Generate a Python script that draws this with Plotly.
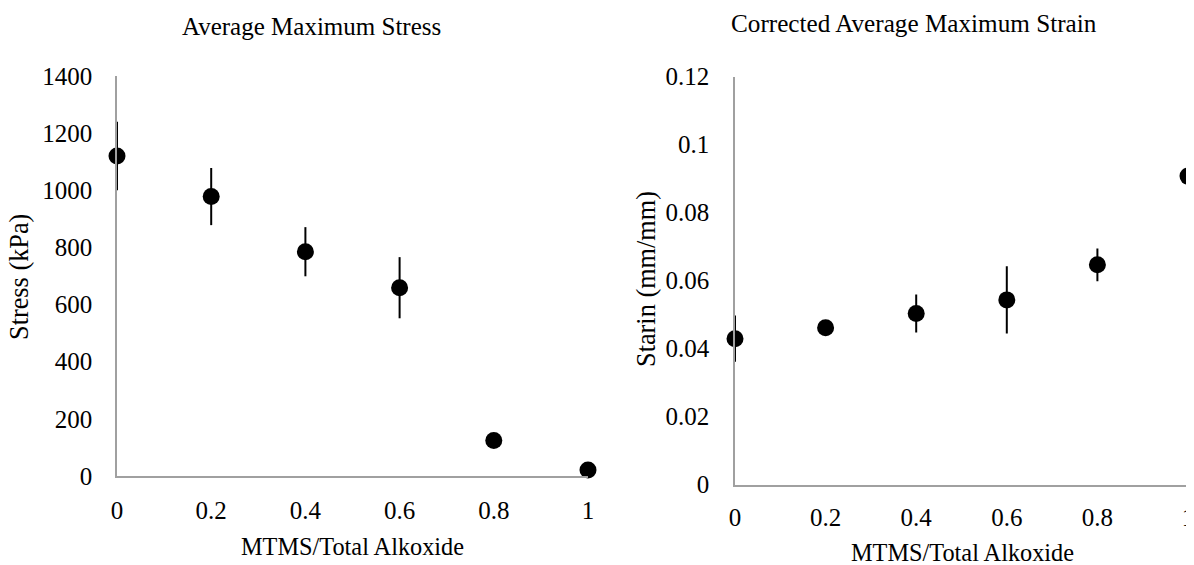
import plotly.graph_objects as go

# ---- data ----
ratio = [0, 0.2, 0.4, 0.6, 0.8, 1.0]
stress_kpa = [1120, 978, 785, 659, 124, 21]
stress_err = [120, 100, 86, 107, 25, 10]
strain = [0.0429, 0.0461, 0.0503, 0.0543, 0.0646, 0.0907]
strain_err = [0.0068, 0.0015, 0.0056, 0.0099, 0.0048, 0.0235]

x_ticks = [0, 0.2, 0.4, 0.6, 0.8, 1]
x_ticklabels = ["0", "0.2", "0.4", "0.6", "0.8", "1"]
stress_ticks = [0, 200, 400, 600, 800, 1000, 1200, 1400]
strain_ticks = [0, 0.02, 0.04, 0.06, 0.08, 0.1, 0.12]
strain_ticklabels = ["0", "0.02", "0.04", "0.06", "0.08", "0.1", "0.12"]

titles = ["Average Maximum Stress", "Corrected Average Maximum Strain"]
x_title = "MTMS/Total Alkoxide"
y_titles = ["Stress (kPa)", "Starin (mm/mm)"]

W, H = 1194, 565
OFF = 8  # page body margin offset of the plot div
FONT = "Liberation Serif"
AXIS_COLOR = "#a0a0a0"


def px_x(p):
    return (p - OFF) / W


def px_y(p):
    return 1 - (p - OFF) / H


fig = go.Figure()

fig.add_trace(go.Scatter(
    x=ratio, y=stress_kpa, mode="markers",
    marker=dict(size=17, color="black"),
    error_y=dict(type="data", array=stress_err, visible=True,
                 color="black", thickness=2, width=0),
    cliponaxis=False, xaxis="x", yaxis="y", showlegend=False,
))
fig.add_trace(go.Scatter(
    x=ratio, y=strain, mode="markers",
    marker=dict(size=17, color="black"),
    error_y=dict(type="data", array=strain_err, visible=True,
                 color="black", thickness=2, width=0),
    cliponaxis=False, xaxis="x2", yaxis="y2", showlegend=False,
))

axis_common = dict(
    showgrid=False, zeroline=False, showline=True, linecolor=AXIS_COLOR,
    linewidth=1.5, ticks="", automargin=False,
    tickfont=dict(family=FONT, size=25, color="black"),
)

fig.update_layout(
    width=W, height=H, autosize=False,
    margin=dict(l=0, r=0, t=0, b=0, autoexpand=False),
    paper_bgcolor="white", plot_bgcolor="white",
    font=dict(family=FONT, color="black"),
    xaxis=dict(domain=[px_x(117), px_x(588)], range=[0, 1], tickvals=x_ticks,
               ticktext=x_ticklabels, anchor="y", ticklabelstandoff=11, **axis_common),
    yaxis=dict(domain=[px_y(476), px_y(76)], range=[0, 1400], tickvals=stress_ticks,
               anchor="x", ticklabelstandoff=18, **axis_common),
    xaxis2=dict(domain=[px_x(735), px_x(1188)], range=[0, 1], tickvals=x_ticks,
                ticktext=x_ticklabels, anchor="y2", ticklabelstandoff=10, **axis_common),
    yaxis2=dict(domain=[px_y(484.5), px_y(76.5)], range=[0, 0.12], tickvals=strain_ticks,
                ticktext=strain_ticklabels, anchor="x2", ticklabelstandoff=19, **axis_common),
)

ann = []
# chart titles
ann.append(dict(text=titles[0], x=px_x(311), y=px_y(27), xref="paper", yref="paper",
                showarrow=False, xanchor="center", yanchor="middle",
                font=dict(family=FONT, size=25, color="black")))
ann.append(dict(text=titles[1], x=px_x(914), y=px_y(23), xref="paper", yref="paper",
                showarrow=False, xanchor="center", yanchor="middle",
                font=dict(family=FONT, size=25.2, color="black")))
# x-axis titles
ann.append(dict(text=x_title, x=px_x(352), y=px_y(546), xref="paper", yref="paper",
                showarrow=False, xanchor="center", yanchor="middle",
                font=dict(family=FONT, size=24.3, color="black")))
ann.append(dict(text=x_title, x=px_x(962), y=px_y(552), xref="paper", yref="paper",
                showarrow=False, xanchor="center", yanchor="middle",
                font=dict(family=FONT, size=24.3, color="black")))
# y-axis titles
ann.append(dict(text=y_titles[0], x=px_x(19), y=px_y(277), xref="paper", yref="paper",
                showarrow=False, xanchor="center", yanchor="middle", textangle=-90,
                font=dict(family=FONT, size=26.3, color="black")))
ann.append(dict(text=y_titles[1], x=px_x(646), y=px_y(279), xref="paper", yref="paper",
                showarrow=False, xanchor="center", yanchor="middle", textangle=-90,
                font=dict(family=FONT, size=26.3, color="black")))
fig.update_layout(annotations=ann)

fig.write_html("out.html")
